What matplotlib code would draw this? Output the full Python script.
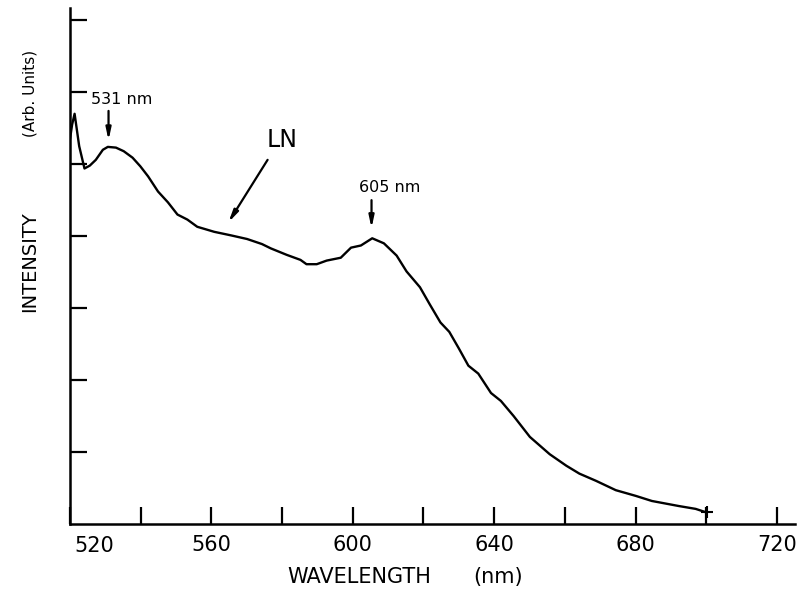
import matplotlib
matplotlib.use("Agg")
import matplotlib.pyplot as plt

# Wavelength (nm) and intensity (arb. units)
wavelength = [520.0, 520.6, 521.3, 522.6, 524.1, 525.6, 527.3, 529.3, 530.7, 533.0,
              535.2, 537.7, 539.9, 542.1, 544.9, 547.7, 550.4, 553.2, 556.0, 560.8,
              565.6, 570.1, 574.3, 576.8, 581.3, 585.2, 586.9, 589.8, 592.6, 596.6,
              599.5, 602.3, 605.5, 608.8, 612.4, 615.2, 619.0, 621.8, 624.8, 627.3,
              630.0, 632.7, 635.5, 639.1, 641.9, 645.5, 650.1, 655.7, 660.4, 664.1,
              668.8, 674.4, 680.1, 684.6, 692.2, 697.0, 700.1]
intensity = [5.35, 5.55, 5.70, 5.25, 4.94, 4.98, 5.06, 5.20, 5.24, 5.23,
             5.18, 5.09, 4.97, 4.83, 4.62, 4.47, 4.30, 4.23, 4.13, 4.06,
             4.01, 3.96, 3.89, 3.83, 3.74, 3.67, 3.61, 3.61, 3.66, 3.70,
             3.84, 3.87, 3.97, 3.90, 3.73, 3.51, 3.29, 3.05, 2.80, 2.67,
             2.44, 2.20, 2.09, 1.82, 1.71, 1.50, 1.21, 0.97, 0.81, 0.70,
             0.60, 0.47, 0.39, 0.32, 0.25, 0.21, 0.16]

x_ticks = [520, 540, 560, 580, 600, 620, 640, 660, 680, 700, 720]
x_labels = ["", "", "560", "", "600", "", "640", "", "680", "", "720"]
y_ticks = [1, 2, 3, 4, 5, 6, 7]

fig = plt.figure(figsize=(8.09, 6.0), dpi=100)
ax = fig.add_axes([70 / 809, 1 - 524 / 600, (795 - 70) / 809, (524 - 8) / 600])

ax.plot(wavelength, intensity, color="black", lw=1.7)
ax.plot([700.1], [0.16], marker="+", color="black", ms=9, mew=1.5)

ax.set_xlim(520, 725.1)
ax.set_ylim(0, 7.17)

for s in ["top", "right"]:
    ax.spines[s].set_visible(False)
for s in ["left", "bottom"]:
    ax.spines[s].set_linewidth(1.8)

ax.set_xticks(x_ticks)
ax.set_xticklabels(x_labels, fontsize=15)
ax.set_yticks(y_ticks)
ax.set_yticklabels([])
ax.tick_params(axis="x", direction="in", length=12, width=1.6, pad=8)
ax.tick_params(axis="y", direction="in", length=12, width=1.6)
ax.text(527, -0.17, "520", ha="center", va="top", fontsize=15)

arrow = dict(arrowstyle="-|>,head_length=0.7,head_width=0.15", color="black", lw=1.6,
             shrinkA=0, shrinkB=0)
ax.annotate("", xy=(530.9, 5.33), xytext=(530.9, 5.74), arrowprops=arrow)
ax.text(534.5, 5.90, "531 nm", ha="center", va="center", fontsize=11.5)
ax.annotate("", xy=(605.3, 4.11), xytext=(605.3, 4.50), arrowprops=arrow)
ax.text(610.3, 4.67, "605 nm", ha="center", va="center", fontsize=11.5)
ax.annotate("", xy=(564.8, 4.19), xytext=(575.9, 5.06), arrowprops=arrow)
ax.text(580, 5.33, "LN", ha="center", va="center", fontsize=17)

fig.text(30 / 809, 1 - 93 / 600, "(Arb. Units)", rotation=90, ha="center", va="center", fontsize=11)
fig.text(30 / 809, 1 - 262 / 600, "INTENSITY", rotation=90, ha="center", va="center", fontsize=14)
fig.text(359 / 809, 1 - 577 / 600, "WAVELENGTH", ha="center", va="center", fontsize=15)
fig.text(498 / 809, 1 - 577 / 600, "(nm)", ha="center", va="center", fontsize=15)

fig.savefig("out.png", dpi=100, facecolor="white")
